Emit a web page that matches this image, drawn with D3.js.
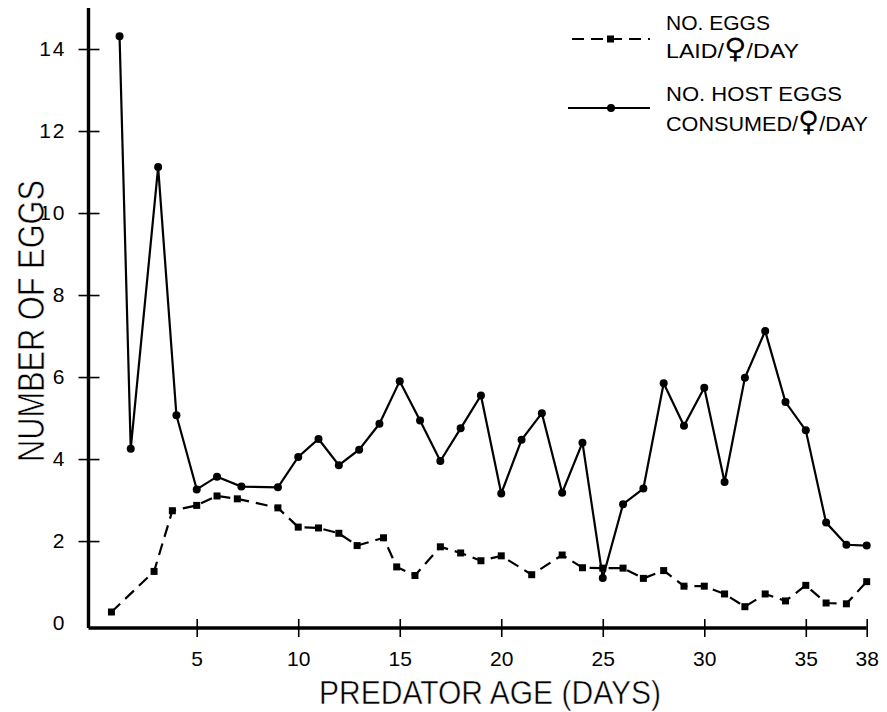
<!DOCTYPE html>
<html><head><meta charset="utf-8">
<script src="https://cdn.jsdelivr.net/npm/d3@7"></script>
<style>body{margin:0;background:#fff} svg{display:block}</style>
</head><body>
<svg id="c" width="887" height="712"></svg>
<script>
// ---- data ----
const consumedDays   = [1.2, 1.75, 3.1, 4, 5, 6, 7.2, 9, 10, 11, 12, 13, 14, 15, 16, 17, 18, 19, 20, 21, 22, 23, 24, 25, 26, 27, 28, 29, 30, 31, 32, 33, 34, 35, 36, 37, 38];
const consumedValues = [14.31, 4.25, 11.12, 5.07, 3.26, 3.57, 3.33, 3.31, 4.05, 4.49, 3.85, 4.23, 4.86, 5.9, 4.94, 3.95, 4.75, 5.55, 3.16, 4.47, 5.12, 3.18, 4.4, 1.1, 2.9, 3.28, 5.85, 4.81, 5.74, 3.44, 5.98, 7.12, 5.39, 4.7, 2.45, 1.91, 1.89];
const laidDays   = [0.8, 2.9, 3.8, 5, 6, 7, 9, 10, 11, 12, 12.9, 14.2, 14.85, 15.75, 17, 18, 19, 20, 21.5, 23, 24, 25, 26, 27, 28, 29, 30, 31, 32, 33, 34, 35, 36, 37, 38];
const laidValues = [0.27, 1.26, 2.74, 2.87, 3.1, 3.03, 2.81, 2.34, 2.32, 2.19, 1.89, 2.08, 1.37, 1.16, 1.86, 1.71, 1.52, 1.64, 1.18, 1.66, 1.35, 1.34, 1.34, 1.09, 1.28, 0.9, 0.9, 0.71, 0.4, 0.71, 0.54, 0.92, 0.49, 0.47, 1.01];
const xTicks = [5, 10, 15, 20, 25, 30, 35, 38];
const yTicks = [0, 2, 4, 6, 8, 10, 12, 14];
const xTitle = "PREDATOR AGE (DAYS)";
const yTitle = "NUMBER OF EGGS";
const legendLaid = [["NO. EGGS"], ["LAID/", "\u2640", "/DAY"]];
const legendConsumed = [["NO. HOST EGGS"], ["CONSUMED/", "\u2640", "/DAY"]];

const FONT = "'Liberation Sans', Arial, sans-serif";
const svg = d3.select("#c");
const x = d3.scaleLinear().domain([-0.33, 38]).range([88.5, 866.7]);
const y = d3.scaleLinear().domain([-0.12, 15]).range([628, 8]);

// axes
const yAxis = svg.append("g").attr("transform", `translate(${x.range()[0]},0)`)
  .call(d3.axisLeft(y).tickValues(yTicks).tickSize(10).tickPadding(12).tickFormat(d3.format("d")));
yAxis.select(".domain").attr("stroke", "#000").attr("stroke-width", 3.4).attr("d", `M0,${y.range()[1]}V${y.range()[0]}`);
yAxis.selectAll(".tick line").attr("x1", 11).attr("x2", -10).attr("stroke-width", 1.6)
  .filter(d => d === 0).remove();
yAxis.selectAll(".tick text").attr("font-family", FONT).attr("font-size", 21).attr("fill", "#000")
  .attr("letter-spacing", 2);

const xAxis = svg.append("g").attr("transform", `translate(0,${y.range()[0]})`)
  .call(d3.axisBottom(x).tickValues(xTicks).tickSize(9).tickPadding(14).tickFormat(d3.format("d")));
xAxis.select(".domain").attr("stroke", "#000").attr("stroke-width", 3.4).attr("d", `M${x.range()[0]},0H${x.range()[1]}`);
xAxis.selectAll(".tick line").attr("y1", -9).attr("y2", 9).attr("stroke-width", 1.6);
xAxis.selectAll(".tick text").attr("font-family", FONT).attr("font-size", 21).attr("fill", "#000");

// titles
svg.append("text").attr("x", 490).attr("y", 704).attr("text-anchor", "middle")
  .attr("font-family", FONT).attr("font-size", 33).attr("textLength", 342).attr("lengthAdjust", "spacingAndGlyphs")
  .attr("stroke", "#fff").attr("stroke-width", 0.5)
  .text(xTitle);
svg.append("text").attr("transform", "translate(44,321) rotate(-90)").attr("text-anchor", "middle")
  .attr("font-family", FONT).attr("font-size", 36).attr("textLength", 282).attr("lengthAdjust", "spacingAndGlyphs")
  .attr("stroke", "#fff").attr("stroke-width", 0.6)
  .text(yTitle);

// series
const laid = laidDays.map((d, i) => [d, laidValues[i]]);
const consumed = consumedDays.map((d, i) => [d, consumedValues[i]]);
const line = d3.line().x(d => x(d[0])).y(d => y(d[1]));

svg.append("path").datum(laid).attr("d", line).attr("fill", "none").attr("stroke", "#000")
  .attr("stroke-width", 2.2).attr("stroke-dasharray", "12,7");
svg.append("path").datum(consumed).attr("d", line).attr("fill", "none").attr("stroke", "#000")
  .attr("stroke-width", 2.2);
svg.append("g").selectAll("rect").data(laid).join("rect")
  .attr("x", d => x(d[0]) - 3.5).attr("y", d => y(d[1]) - 3.5).attr("width", 7).attr("height", 7).attr("fill", "#000");
svg.append("g").selectAll("circle").data(consumed).join("circle")
  .attr("cx", d => x(d[0])).attr("cy", d => y(d[1])).attr("r", 4).attr("fill", "#000");

// legend
const lg = svg.append("g");
lg.append("line").attr("x1", 572).attr("x2", 650).attr("y1", 39).attr("y2", 39)
  .attr("stroke", "#000").attr("stroke-width", 2.2).attr("stroke-dasharray", "12,7");
lg.append("rect").attr("x", 607).attr("y", 35.5).attr("width", 7).attr("height", 7);
lg.append("line").attr("x1", 568).attr("x2", 650).attr("y1", 108).attr("y2", 108)
  .attr("stroke", "#000").attr("stroke-width", 2.2);
lg.append("circle").attr("cx", 611).attr("cy", 108).attr("r", 4);
const legendRows = [
  {t: legendLaid[0], y: 30, w: 104}, {t: legendLaid[1], y: 58, w: 133},
  {t: legendConsumed[0], y: 101, w: 176}, {t: legendConsumed[1], y: 131, w: 202}
];
lg.selectAll("text").data(legendRows).join("text")
  .attr("x", 666).attr("y", d => d.y).attr("font-family", FONT).attr("font-size", 21)
  .attr("textLength", d => d.w).attr("lengthAdjust", "spacingAndGlyphs")
  .each(function(d) {
    const t = d3.select(this);
    d.t.forEach(part => {
      const s = t.append("tspan").text(part);
      if (part === "\u2640") s.attr("font-family", "'DejaVu Sans', sans-serif").attr("font-size", 28);
    });
  });
</script>
</body></html>
